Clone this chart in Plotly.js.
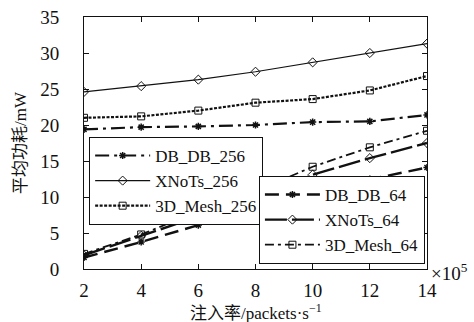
<!DOCTYPE html>
<html><head><meta charset="utf-8">
<script src="https://cdn.plot.ly/plotly-3.0.1.min.js"></script>
<style>html,body{margin:0;padding:0;background:#fff}#c{width:474px;height:322px}</style>
</head><body><div id="c"></div>
<script>
const rates = [2, 4, 6, 8, 10, 12, 14];
const dbdb256 = [19.4, 19.7, 19.8, 20.0, 20.4, 20.5, 21.4];
const xnots256 = [24.6, 25.4, 26.3, 27.4, 28.7, 30.0, 31.3];
const mesh256 = [21.0, 21.2, 22.0, 23.1, 23.6, 24.8, 26.8];
const dbdb64 = [1.6, 3.75, 6.1, 8.15, 10.8, 12.5, 14.1];
const xnots64 = [1.9, 4.6, 7.3, 9.7, 13.1, 15.4, 17.5];
const mesh64 = [2.1, 4.8, 8.0, 10.8, 14.2, 16.9, 19.2];
const names = ['DB_DB_256', 'XNoTs_256', '3D_Mesh_256', 'DB_DB_64', 'XNoTs_64', '3D_Mesh_64'];
const xTitle = '注入率/packets·s<sup>−1</sup>';
const yTitle = '平均功耗/mW';

const ff = 'Liberation Serif';
const ffc = 'Liberation Serif, Noto Sans CJK SC';
const col = '#111';
function tr(y, name, dash, w, sym, ms, leg) {
  return {x: rates, y: y, name: name, type: 'scatter', mode: 'lines+markers',
    line: {color: col, width: w, dash: dash},
    marker: {symbol: sym, size: ms, color: col, line: {color: col, width: 1}},
    legend: leg};
}
const data = [
  tr(dbdb256, names[0], '14px,5px,3px,5px', 2.2, 'asterisk-open', 6, 'legend'),
  tr(xnots256, names[1], 'solid', 1.2, 'diamond-open', 7, 'legend'),
  tr(mesh256, names[2], '3px,1.5px', 2.2, 'square-open', 7, 'legend'),
  tr(dbdb64, names[3], '14px,7px', 2.4, 'asterisk-open', 6, 'legend2'),
  tr(xnots64, names[4], '22px,5px', 2.4, 'diamond-open', 7, 'legend2'),
  tr(mesh64, names[5], '9px,4px,3px,4px', 1.8, 'square-open', 7, 'legend2')
];
data[0].marker.line.width = 1.5; data[3].marker.line.width = 1.5;

const legStyle = {bgcolor: '#fff', bordercolor: col, borderwidth: 1,
  font: {family: ff, size: 17, color: col}, itemwidth: 55, tracegroupgap: 0, itemclick: false,
  xanchor: 'left'};
const layout = {
  width: 474, height: 322,
  margin: {l: 84, r: 47, t: 17, b: 53},
  paper_bgcolor: '#fff', plot_bgcolor: '#fff',
  font: {family: ff, size: 18, color: col},
  xaxis: {range: [2, 14], tickvals: rates, ticks: 'inside', ticklen: 5, tickcolor: col,
    showline: true, linecolor: col, linewidth: 1, mirror: 'ticks', showgrid: false, zeroline: false,
    ticklabelstandoff: 4,
    tickfont: {family: ff, size: 19, color: col}},
  yaxis: {range: [0, 35], dtick: 5, ticks: 'inside', ticklen: 5, tickcolor: col,
    showline: true, linecolor: col, linewidth: 1, mirror: 'ticks', showgrid: false, zeroline: false,
    ticklabelstandoff: 20,
    tickfont: {family: ff, size: 19, color: col},
    title: {text: yTitle, font: {family: ffc, size: 17, color: col}, standoff: 9}},
  legend: Object.assign({}, legStyle, {x: 0.015, y: 0.524, yanchor: 'top'}),
  legend2: Object.assign({}, legStyle, {x: 0.51, y: 0.02, yanchor: 'bottom'}),
  showlegend: true,
  annotations: [
    {text: '×10<sup>5</sup>', xref: 'paper', yref: 'paper', x: 1.005, y: -0.01,
      xanchor: 'left', yanchor: 'middle', showarrow: false, font: {family: ff, size: 19, color: col}},
    {text: xTitle, xref: 'paper', yref: 'paper', x: 0.5, y: -0.17,
      xanchor: 'center', yanchor: 'middle', showarrow: false, font: {family: ffc, size: 17, color: col}}
  ]
};
Plotly.newPlot('c', data, layout, {staticPlot: true});
</script></body></html>
